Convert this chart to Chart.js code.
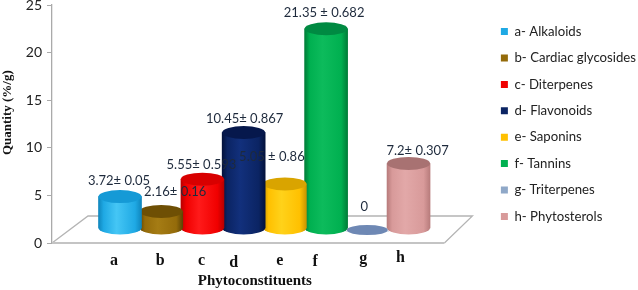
<!DOCTYPE html>
<html><head><meta charset="utf-8">
<style>html,body{margin:0;padding:0;background:#fff}#w{width:638px;height:290px;position:relative}canvas{filter:blur(0.35px)}</style>
<script src="https://cdn.jsdelivr.net/npm/chart.js@4"></script>
</head><body><div id="w"><canvas id="c"></canvas></div>
<script>
const categories = ['a','b','c','d','e','f','g','h'];
const names = ['a- Alkaloids','b- Cardiac glycosides','c- Diterpenes','d- Flavonoids','e- Saponins','f- Tannins','g- Triterpenes','h- Phytosterols'];
const values = [3.72,2.16,5.55,10.45,5.05,21.35,0,7.2];
const valueLabels = ['3.72\u00b1 0.05','2.16\u00b1 0.16','5.55\u00b1 0.593','10.45\u00b1 0.867','5.05 \u00b1 0.86','21.35 \u00b1 0.682','0','7.2\u00b1 0.307'];
const yTicks = [0,5,10,15,20,25];
const legendColors = ['#1fa9e4','#946b0a','#f00000','#0b2463','#ffc000','#00b050','#8fa8c8','#d89a9a'];
const edgeColors = ['#0f86bd','#5e4404','#b80000','#03123c','#c99500','#007d38','#7d93b8','#b87c7c'];
const lightColors = ['#45c6f5','#a57c14','#ff1a1a','#12307c','#ffd21a','#0dbb5c','#8fa8c8','#e2a8a8'];
const topColors = ['#159ad6','#6e4f04','#d80000','#06184c','#d9a400','#008a42','#6e88b4','#a87272'];

// per-label nudges relative to the bar top, as in the hand-placed original
const labelNudgeX = [-1,14,-1,1,-13,-2,-3,9];
const labelNudgeY = [16,20,14,14,27,16,23,13];
const tickNudgeX = [-6,-1,-1,-10,-5,-11,-4,-8];
const tickNudgeY = [0,0,0,2,0,1,-2,-3];
const depthX = 36, depthY = 27, liftY = 11, rx = 21.5, ry = 6.5;
const floorValue = 0.42, flatValue = 0.2, floorEndX = 7.87;

const threeD = {
  id:'threeD',
  beforeDraw(chart){
    const items = chart.scales.x.getLabelItems();
    if(!items.nudged){
      items.forEach((it,i)=>{
        const idx = chart.scales.x.ticks[i].value;
        it.options.translation[0]+=tickNudgeX[idx];
        it.options.translation[1]+=tickNudgeY[idx];
      });
      items.nudged=true;
    }
  },
  beforeDatasetsDraw(chart){
    const {x,y}=chart.scales, c=chart.ctx;
    const x0=x.left, y0=y.getPixelForValue(0), x1=x.getPixelForValue(floorEndX);
    c.save();
    c.strokeStyle='#b4b4b4'; c.lineWidth=1.3;
    c.beginPath();
    c.moveTo(x0,y0); c.lineTo(x0+depthX,y0-depthY); c.lineTo(x1+depthX-8,y0-depthY); c.lineTo(x1,y0);
    c.stroke();
    c.strokeStyle='#c4c4c4'; c.lineWidth=2;
    c.beginPath(); c.moveTo(x0,y0); c.lineTo(x1,y0); c.stroke();
    c.restore();
  },
  beforeDatasetDraw(chart,args){
    const c=chart.ctx, i=args.index, bar=args.meta.data[0];
    c.save(); c.translate(0,-liftY);
    if(values[i]>0){
      c.fillStyle=bar.options.backgroundColor;
      c.beginPath();
      c.ellipse(bar.x,bar.base,rx,ry,0,0,Math.PI);
      c.fill();
    }
  },
  afterDatasetDraw(chart,args){
    const c=chart.ctx, i=args.index, bar=args.meta.data[0], y=chart.scales.y;
    c.fillStyle=topColors[i];
    c.beginPath();
    if(values[i]>0) c.ellipse(bar.x,bar.y,rx,ry,0,0,Math.PI*2);
    else c.ellipse(bar.x,y.getPixelForValue(flatValue),rx-1,ry-1.5,0,0,Math.PI*2);
    c.fill();
    c.restore();
  },
  afterDatasetsDraw(chart){
    const c=chart.ctx,{x,y}=chart.scales;
    c.save();
    c.font='13px Lato'; c.fillStyle='#1e2a3c'; c.textAlign='center'; c.textBaseline='middle';
    values.forEach((v,i)=>{
      const px=x.getPixelForValue(i)+labelNudgeX[i];
      const base=v>0?y.getPixelForValue(v):y.getPixelForValue(flatValue);
      c.fillText(valueLabels[i],px,base-liftY-labelNudgeY[i]);
    });
    c.restore();
  }
};

function cylinderFill(i){
  return function(ctx){
    const x=ctx.chart.scales.x; if(!x) return legendColors[i];
    const p=x.getPixelForValue(i);
    if(!isFinite(p)) return legendColors[i];
    const g=ctx.chart.ctx.createLinearGradient(p-rx,0,p+rx,0);
    g.addColorStop(0,edgeColors[i]); g.addColorStop(0.12,legendColors[i]);
    g.addColorStop(0.42,lightColors[i]); g.addColorStop(0.85,legendColors[i]);
    g.addColorStop(1,edgeColors[i]);
    return g;
  };
}

new Chart(document.getElementById('c'),{
  type:'bar',
  data:{datasets:names.map((n,i)=>({
    label:n,
    data:[{x:i,y:values[i]}],
    base:values[i]>0?floorValue:0,
    backgroundColor:cylinderFill(i),
    borderWidth:0,
    barThickness:rx*2,
    grouped:false
  }))},
  options:{
    responsive:true,maintainAspectRatio:false,animation:false,
    layout:{padding:{top:5,right:-8,bottom:0,left:0}},
    plugins:{
      tooltip:{enabled:false},
      legend:{
        position:'right',
        fullSize:false,
        labels:{
          boxWidth:7,boxHeight:7,padding:13.2,color:'#222',
          font:{family:'Lato',size:13.2},
          generateLabels(chart){
            return names.map((n,i)=>({text:n,fillStyle:legendColors[i],strokeStyle:legendColors[i],lineWidth:0,datasetIndex:i,fontColor:'#222'}));
          }
        }
      }
    },
    scales:{
      x:{
        type:'linear',offset:false,min:-1.65,max:8.92,
        afterBuildTicks(s){s.ticks=categories.map((_,i)=>({value:i}));},
        grid:{display:false},border:{display:false},
        ticks:{autoSkip:false,maxRotation:0,padding:0,color:'#111',
          font:{family:'Liberation Serif',weight:'bold',size:16},
          callback(v){return categories[v]}},
        title:{display:true,text:'Phytoconstituents        ',color:'#111',
          font:{family:'Liberation Serif',weight:'bold',size:15},padding:{top:3,bottom:0}},
        afterFit(s){s.height=47;s.paddingLeft=0;s.paddingRight=0}
      },
      y:{
        min:0,max:25,
        afterBuildTicks(s){s.ticks=yTicks.map(v=>({value:v}));},
        grid:{drawOnChartArea:false,tickLength:5,color:'#aaa'},
        border:{display:true,color:'#aaa',width:1.3},
        ticks:{color:'#222',padding:5,font:{family:'Lato',size:14}},
        title:{display:true,text:'       Quantity (%/g)',color:'#111',
          font:{family:'Liberation Serif',weight:'bold',size:13},padding:{top:0,bottom:0}},
        afterFit(s){s.width=52;s.paddingTop=0;s.paddingBottom=0}
      }
    }
  },
  plugins:[threeD]
});
</script></body></html>
